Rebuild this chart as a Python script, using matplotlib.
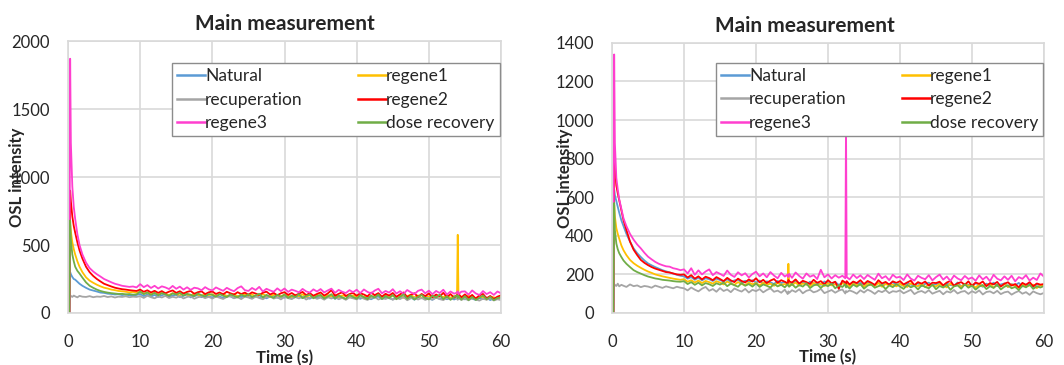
import numpy as np
import matplotlib
matplotlib.use("Agg")
import matplotlib.pyplot as plt

plt.rcParams["font.family"] = ["Lato", "DejaVu Sans"]

# ─────────────────────────────────────────────
# Data
# ─────────────────────────────────────────────
T_EARLY = [0.0, 0.2, 0.3, 0.4, 0.6, 0.8, 1.0, 1.3, 1.6, 2.0, 2.5, 3.0, 3.5,
           4.0, 4.5, 5.0, 5.5, 6.0, 6.5, 7.0, 7.5, 8.0, 8.5, 9.0, 9.5]
T_EXTRA_LEFT = [53.9, 54.1]
T_EXTRA_RIGHT = [24.4, 24.6, 32.4, 32.6]

SERIES = ["Natural", "regene1", "recuperation", "regene2", "regene3", "dose recovery"]
COLORS = ["#5B9BD5", "#FFC000", "#A5A5A5", "#FF0000", "#FF3FCF", "#70AD47"]

# left panel
NATURAL_L = [0, 0, 300, 285, 265, 250, 245, 230, 215, 200, 185, 172, 165, 158, 150,
             148, 142, 140, 136, 138, 132, 135, 130, 128, 133,
             140, 124, 136, 121, 133, 118, 131, 138, 120, 129,
             134, 117, 127, 136, 115, 126, 131, 116, 128, 121,
             114, 129, 120, 112, 127, 122, 110, 126, 117, 130,
             118, 109, 125, 115, 121, 108, 120, 127, 112, 122,
             113, 124, 107, 118, 123, 110, 119, 105, 121, 114,
             120, 106, 116, 123, 104, 118, 113, 102, 119, 111,
             117, 104, 119, 110, 101, 115, 121, 103, 114, 108,
             100, 116, 107, 120, 103, 113, 98, 115, 108, 118,
             106, 97, 114, 104, 117, 101, 112, 99, 110, 115, 104, 112,
             100, 113, 105, 96, 111, 103, 114, 95, 108, 102,
             107]
REGENE1_L = [0, 0, 650, 600, 520, 470, 430, 380, 340, 300, 262, 238, 222, 208, 196,
             186, 180, 172, 168, 162, 160, 156, 152, 155, 150,
             156, 141, 151, 137, 149, 134, 147, 142, 131, 146,
             140, 129, 145, 136, 127, 143, 135, 125, 141, 132,
             138, 124, 136, 142, 123, 133, 140, 121, 134, 139,
             127, 137, 120, 133, 139, 124, 119, 136, 130, 121,
             135, 126, 118, 134, 123, 137, 119, 130, 117, 132,
             128, 116, 131, 122, 135, 118, 129, 124, 114, 130,
             121, 133, 115, 127, 112, 126, 134, 117, 131, 113,
             128, 116, 132, 111, 125, 133, 115, 129, 110, 126,
             119, 131, 112, 127, 116, 130, 111, 124, 128, 575, 131, 120,
             113, 127, 118, 108, 124, 114, 100, 121, 115, 106,
             118]
RECUP_L = [0, 0, 130, 125, 118, 128, 122, 115, 126, 120, 118, 124, 116, 121, 119,
           125, 117, 122, 114, 120, 118, 123, 116, 120, 118,
           124, 111, 127, 116, 108, 122, 114, 126, 110, 119,
           113, 125, 107, 118, 123, 105, 116, 122, 109, 119,
           106, 121, 112, 103, 118, 124, 108, 116, 102, 120,
           114, 104, 121, 110, 101, 117, 122, 106, 115, 100,
           119, 109, 102, 117, 107, 120, 99, 112, 118, 104,
           113, 98, 116, 106, 119, 101, 111, 97, 115, 108,
           100, 116, 105, 96, 112, 118, 99, 110, 103, 114,
           97, 111, 102, 117, 94, 108, 114, 99, 111, 96,
           109, 98, 113, 102, 95, 111, 100, 115, 104, 97, 110, 96,
           106, 93, 110, 99, 91, 105, 97, 109, 92, 101,
           95]
REGENE2_L = [0, 0, 900, 820, 710, 640, 590, 520, 460, 400, 340, 300, 272, 250, 232,
             215, 205, 195, 186, 180, 175, 172, 168, 165, 162,
             172, 156, 167, 151, 163, 148, 161, 145, 157, 166,
             148, 160, 143, 155, 162, 141, 153, 159, 139, 152,
             158, 140, 151, 137, 156, 145, 135, 153, 139, 150,
             134, 152, 143, 132, 149, 157, 136, 148, 130, 145,
             153, 133, 147, 129, 142, 155, 131, 146, 127, 140,
             151, 128, 144, 168, 126, 141, 152, 125, 139, 148,
             127, 145, 136, 122, 150, 131, 146, 120, 141, 128,
             147, 119, 137, 151, 116, 134, 145, 118, 140, 124,
             144, 115, 136, 121, 148, 117, 139, 113, 132, 126, 142, 114,
             137, 111, 133, 106, 129, 140, 108, 125, 103, 120,
             130]
REGENE3_L = [0, 0, 1870, 1250, 930, 780, 690, 580, 500, 430, 370, 330, 305, 285, 268,
             250, 238, 226, 215, 208, 200, 196, 192, 195, 188,
             212, 190, 205, 184, 200, 180, 196, 188, 176, 199,
             178, 194, 172, 189, 170, 186, 181, 167, 190, 174,
             166, 188, 175, 163, 185, 171, 160, 183, 196, 168,
             162, 184, 169, 192, 158, 178, 166, 156, 181, 161,
             180, 155, 172, 163, 152, 177, 159, 150, 174, 158,
             176, 151, 166, 179, 148, 170, 156, 147, 168, 153,
             171, 146, 173, 155, 144, 165, 178, 145, 162, 150,
             175, 143, 160, 141, 169, 152, 139, 163, 172, 145,
             164, 138, 162, 147, 171, 136, 158, 142, 150, 160, 137, 157,
             159, 135, 166, 144, 132, 161, 139, 153, 133, 158,
             145]
DOSE_L = [0, 0, 680, 540, 430, 380, 340, 310, 290, 260, 225, 200, 185, 172, 162,
          155, 150, 146, 143, 140, 141, 137, 139, 135, 137,
          158, 139, 151, 133, 148, 130, 146, 137, 127, 144,
          136, 148, 128, 141, 134, 124, 143, 131, 121, 140,
          133, 120, 139, 127, 117, 137, 125, 115, 135, 122,
          138, 118, 130, 141, 114, 133, 121, 112, 134, 119,
          136, 111, 128, 117, 139, 109, 126, 135, 108, 124,
          133, 107, 122, 138, 106, 129, 115, 104, 134, 118,
          105, 131, 116, 102, 128, 113, 136, 103, 125, 110,
          132, 101, 120, 137, 104, 126, 99, 119, 133, 108,
          100, 127, 114, 135, 102, 123, 97, 118, 130, 109, 126, 98,
          124, 95, 117, 96, 112, 128, 101, 119, 94, 110,
          115]

# right panel
NATURAL_R = [0, 0, 640, 610, 580, 550, 520, 480, 450, 410, 370, 335, 310, 290, 272,
             257, 247, 238, 230, 222, 216, 210, 204, 198, 193,
             190, 178, 186, 172, 183, 169, 180, 175, 166, 178,
             171, 163, 175, 160, 169, 173, 158, 167, 162, 170,
             157, 168, 153, 164, 159, 150, 166, 155, 161, 152, 163, 156,
             149, 165, 154, 160, 147, 162, 151, 158, 146, 163,
             155, 148, 161, 145, 158, 150, 153, 157, 144, 160, 149, 156,
             143, 159, 150, 146, 157, 141, 154, 148, 160, 145,
             152, 140, 158, 147, 142, 155, 139, 151, 157, 144,
             149, 156, 138, 153, 145, 141, 158, 137, 150, 146,
             140, 154, 147, 136, 152, 143, 157, 139, 148, 153,
             135, 150, 144, 156, 138, 147, 152, 134, 149, 142,
             146]
REGENE1_R = [0, 0, 560, 500, 440, 410, 385, 350, 325, 300, 275, 258, 245, 234, 224,
             215, 208, 200, 195, 190, 186, 182, 178, 175, 172,
             175, 162, 170, 158, 168, 155, 166, 160, 152, 165,
             158, 148, 163, 153, 146, 160, 150, 144, 158, 149,
             155, 143, 157, 147, 152, 141, 156, 146, 150, 148, 255, 152,
             145, 158, 142, 153, 148, 139, 156, 144, 151, 140,
             154, 143, 149, 138, 155, 146, 142, 150, 139, 152, 144, 148,
             137, 153, 145, 140, 156, 136, 150, 143, 147, 138,
             151, 141, 135, 154, 144, 139, 152, 134, 148, 143,
             138, 150, 142, 133, 153, 140, 146, 136, 151, 141,
             147, 132, 149, 139, 144, 152, 131, 146, 138, 150,
             135, 148, 140, 130, 151, 137, 143, 147, 129, 145,
             141]
RECUP_R = [0, 0, 150, 145, 140, 152, 138, 146, 141, 135, 148, 139, 143, 134, 140,
           137, 131, 142, 136, 130, 138, 133, 128, 136, 131,
           128, 117, 132, 121, 112, 126, 135, 115, 124, 110,
           129, 114, 122, 108, 127, 118, 111, 125, 106, 120,
           113, 124, 107, 119, 128, 110, 116, 105, 121, 98, 112, 104,
           118, 109, 123, 102, 115, 120, 107, 113, 125, 103,
           111, 119, 105, 116, 122, 101, 114, 108, 117, 110, 100, 118,
           106, 121, 112, 99, 115, 108, 119, 103, 113, 110,
           117, 102, 111, 120, 98, 109, 114, 104, 118, 100,
           108, 115, 97, 112, 106, 119, 101, 110, 114, 99,
           113, 104, 117, 96, 109, 112, 102, 115, 98, 107,
           111, 95, 106, 114, 100, 108, 94, 112, 103, 97,
           104]
REGENE2_R = [0, 0, 790, 760, 660, 620, 585, 530, 480, 430, 370, 328, 300, 275, 260,
             248, 238, 230, 224, 218, 212, 210, 205, 200, 198,
             200, 184, 196, 178, 190, 174, 188, 181, 170, 186,
             176, 165, 182, 169, 160, 178, 166, 158, 174, 163,
             180, 159, 172, 155, 168, 176, 157, 170, 162, 153, 171, 164,
             158, 174, 152, 167, 160, 150, 172, 156, 165, 149,
             170, 154, 162, 125, 168, 158, 151, 165, 148, 163, 155, 170,
             150, 166, 157, 145, 170, 153, 161, 147, 164, 156,
             165, 148, 158, 168, 144, 160, 152, 163, 142, 157,
             155, 162, 143, 158, 166, 141, 154, 160, 146, 164,
             140, 158, 151, 163, 139, 155, 148, 161, 137, 152,
             159, 142, 150, 133, 156, 146, 160, 138, 153, 147,
             150]
REGENE3_R = [0, 0, 1340, 880, 700, 640, 590, 540, 490, 450, 410, 380, 355, 335, 312,
             292, 278, 265, 255, 248, 242, 240, 232, 228, 222,
             226, 205, 232, 198, 221, 200, 215, 226, 196, 212,
             203, 192, 220, 198, 187, 211, 195, 206, 184, 202,
             214, 190, 205, 185, 212, 194, 180, 208, 189, 199, 186, 203,
             182, 210, 192, 178, 205, 188, 196, 176, 224, 185,
             200, 179, 196, 183, 193, 180, 1000, 186, 174, 199, 181, 195,
             176, 197, 184, 172, 204, 180, 191, 170, 198, 183,
             188, 171, 200, 178, 168, 193, 182, 175, 196, 169,
             186, 199, 173, 189, 166, 194, 179, 170, 192, 176,
             184, 167, 195, 174, 188, 165, 198, 178, 169, 190,
             172, 193, 164, 186, 177, 196, 168, 183, 171, 205,
             188]
DOSE_R = [0, 0, 570, 430, 360, 330, 310, 290, 272, 255, 238, 222, 212, 204, 196,
          189, 184, 179, 176, 172, 170, 168, 165, 163, 162,
          165, 150, 160, 146, 157, 143, 155, 149, 140, 154,
          147, 158, 139, 152, 144, 136, 155, 141, 150, 137,
          153, 135, 148, 141, 132, 151, 138, 146, 133, 149, 140, 136,
          150, 131, 145, 137, 154, 129, 143, 148, 130, 146,
          139, 152, 128, 144, 135, 149, 133, 141, 127, 147, 136, 150,
          126, 142, 148, 131, 139, 145, 124, 143, 134, 150,
          137, 125, 146, 133, 141, 122, 144, 135, 128, 147,
          123, 140, 132, 146, 120, 138, 143, 126, 149, 131,
          142, 121, 137, 145, 124, 139, 130, 148, 122, 136,
          144, 128, 135, 119, 141, 133, 147, 125, 138, 132,
          140]

LEFT = [NATURAL_L, REGENE1_L, RECUP_L, REGENE2_L, REGENE3_L, DOSE_L]
RIGHT = [NATURAL_R, REGENE1_R, RECUP_R, REGENE2_R, REGENE3_R, DOSE_R]


def time_grid(extra):
    tail = np.arange(10.0, 60.001, 0.5)
    return np.union1d(np.array(T_EARLY), np.union1d(tail, extra))


# ─────────────────────────────────────────────
# Plot
# ─────────────────────────────────────────────
TEXT_C = "#262626"
GRID_C = "#D9D9D9"


def draw_panel(ax, t, curves, ymax, ystep, title_x, ylabel_x, legend_box):
    lines = {}
    for name, color, vals in zip(SERIES, COLORS, curves):
        assert len(vals) == len(t), (name, len(vals), len(t))
        (ln,) = ax.plot(t, vals, color=color, lw=1.3, label=name)
        lines[name] = ln

    ax.set_xlim(0, 60)
    ax.set_ylim(0, ymax)
    ax.set_xticks(np.arange(0, 61, 10))
    ax.set_yticks(np.arange(0, ymax + 1, ystep))
    ax.grid(True, color=GRID_C, lw=1.2)
    ax.set_axisbelow(True)
    for sp in ax.spines.values():
        sp.set_color(GRID_C)
        sp.set_linewidth(1.2)
    ax.tick_params(length=0, labelsize=12, colors=TEXT_C)
    ax.tick_params(axis="y", pad=13)
    ax.tick_params(axis="x", pad=15)

    ax.set_xlabel("Time (s)", fontsize=12, fontweight="bold", color=TEXT_C)
    ax.xaxis.set_label_coords(0.5, -0.135)
    ax.set_ylabel("OSL intensity", fontsize=12, fontweight="bold", color=TEXT_C)
    ax.yaxis.set_label_coords(ylabel_x, 0.5)
    ax.text(title_x, 1.062, "Main measurement", transform=ax.transAxes,
            ha="center", va="center", fontsize=15, fontweight="bold",
            color=TEXT_C)

    # Excel fills the legend row by row, matplotlib column by column
    order = ["Natural", "recuperation", "regene3",
             "regene1", "regene2", "dose recovery"]
    leg = ax.legend([lines[n] for n in order], order, ncol=2,
                    loc="upper left", bbox_to_anchor=legend_box, mode="expand",
                    borderaxespad=0, fontsize=12.5, frameon=True, fancybox=False,
                    handlelength=1.6, handletextpad=0.0, labelspacing=0.42,
                    borderpad=0.3, framealpha=1, edgecolor="#8C8C8C")
    leg.get_frame().set_linewidth(1.0)
    for txt in leg.get_texts():
        txt.set_color(TEXT_C)
    for h in leg.get_lines():
        h.set_linewidth(1.8)


fig = plt.figure(figsize=(10.64, 3.65), dpi=100)
ax_l = fig.add_axes([0.0639, 0.1425, 0.4070, 0.7450])
ax_r = fig.add_axes([0.5752, 0.1425, 0.4060, 0.7400])

draw_panel(ax_l, time_grid(T_EXTRA_LEFT), LEFT, 2000, 500, 0.50, -0.10,
           (0.24, 0.647, 0.757, 0.272))
draw_panel(ax_r, time_grid(T_EXTRA_RIGHT), RIGHT, 1400, 200, 0.447, -0.09,
           (0.241, 0.652, 0.757, 0.274))

fig.savefig("out.png", dpi=100)
